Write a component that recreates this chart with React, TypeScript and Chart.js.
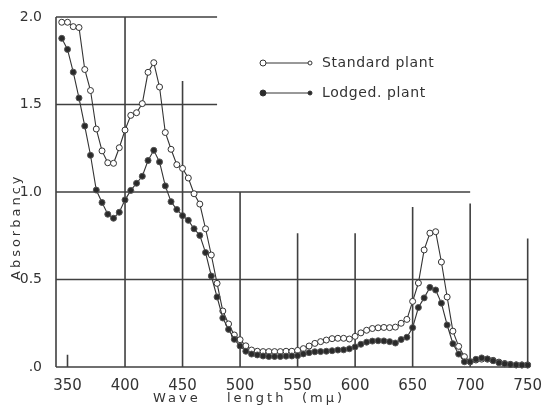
import { useEffect, useRef } from "react";
import { Chart, registerables } from "chart.js";
Chart.register(...registerables);

const wavelengths = [
  345, 350, 355, 360, 365, 370, 375, 380, 385, 390,
  395, 400, 405, 410, 415, 420, 425, 430, 435, 440,
  445, 450, 455, 460, 465, 470, 475, 480, 485, 490,
  495, 500, 505, 510, 515, 520, 525, 530, 535, 540,
  545, 550, 555, 560, 565, 570, 575, 580, 585, 590,
  595, 600, 605, 610, 615, 620, 625, 630, 635, 640,
  645, 650, 655, 660, 665, 670, 675, 680, 685, 690,
  695, 700, 705, 710, 715, 720, 725, 730, 735, 740,
  745, 750,
];

const standardPlant = [
  1.97, 1.97, 1.945, 1.94, 1.7, 1.58, 1.36, 1.235, 1.167, 1.164,
  1.253, 1.354, 1.438, 1.453, 1.505, 1.684, 1.739, 1.6, 1.34, 1.244,
  1.156, 1.135, 1.08, 0.99, 0.931, 0.79, 0.64, 0.478, 0.32, 0.246,
  0.183, 0.156, 0.121, 0.097, 0.09, 0.088, 0.088, 0.088, 0.088, 0.09,
  0.09, 0.095, 0.105, 0.12, 0.135, 0.145, 0.154, 0.162, 0.164, 0.164,
  0.16, 0.175, 0.195, 0.21, 0.22, 0.224, 0.226, 0.225, 0.228, 0.25,
  0.272, 0.375, 0.48, 0.669, 0.765, 0.773, 0.6, 0.4, 0.205, 0.118,
  0.059, 0.03, 0.04, 0.045, 0.045, 0.038, 0.028, 0.02, 0.015, 0.012,
  0.012, 0.012,
];

const lodgedPlant = [
  1.878, 1.815, 1.685, 1.537, 1.377, 1.21, 1.011, 0.94, 0.873, 0.85,
  0.884, 0.955, 1.009, 1.05, 1.09, 1.18, 1.238, 1.172, 1.035, 0.945,
  0.9, 0.865, 0.838, 0.79, 0.752, 0.654, 0.52, 0.4, 0.28, 0.215,
  0.158, 0.12, 0.09, 0.074, 0.069, 0.063, 0.06, 0.06, 0.06, 0.062,
  0.063, 0.065, 0.075, 0.082, 0.087, 0.088, 0.09, 0.093, 0.097, 0.098,
  0.104, 0.115, 0.13, 0.142, 0.148, 0.15, 0.149, 0.145, 0.137, 0.157,
  0.17, 0.225, 0.34, 0.395, 0.455, 0.44, 0.365, 0.24, 0.133, 0.074,
  0.03, 0.03, 0.044, 0.052, 0.046, 0.036, 0.024, 0.018, 0.014, 0.012,
  0.011, 0.011,
];

const xTicks = [350, 400, 450, 500, 550, 600, 650, 700, 750];
const yTicks = [0, 0.5, 1.0, 1.5, 2.0];
const yTickLabels = [".0", "0.5", "1.0", "1.5", "2.0"];

// grid segments in data units
const hGrid = [
  { y: 2.0, from: 340, to: 480 },
  { y: 1.5, from: 340, to: 480 },
  { y: 1.0, from: 340, to: 700 },
  { y: 0.5, from: 340, to: 750 },
];
const vGrid = [
  { x: 350, to: 0.07 },
  { x: 400, to: 2.0 },
  { x: 450, to: 1.635 },
  { x: 500, to: 1.0 },
  { x: 550, to: 0.765 },
  { x: 600, to: 0.765 },
  { x: 650, to: 0.915 },
  { x: 700, to: 0.935 },
  { x: 750, to: 0.735 },
];

const INK = "#333333";
const FONT = "'DejaVu Sans', sans-serif";

const decorPlugin = {
  id: "decor",
  beforeDatasetsDraw(chart: any) {
    const { ctx } = chart;
    const xs = chart.scales.x;
    const ys = chart.scales.y;
    ctx.save();
    ctx.strokeStyle = "#404040";
    ctx.lineWidth = 1.6;
    ctx.beginPath();
    hGrid.forEach((g) => {
      const py = ys.getPixelForValue(g.y);
      ctx.moveTo(xs.getPixelForValue(g.from), py);
      ctx.lineTo(xs.getPixelForValue(g.to), py);
    });
    vGrid.forEach((g) => {
      const px = xs.getPixelForValue(g.x);
      ctx.moveTo(px, ys.getPixelForValue(0));
      ctx.lineTo(px, ys.getPixelForValue(g.to));
    });
    // axes
    ctx.moveTo(xs.getPixelForValue(340), ys.getPixelForValue(0));
    ctx.lineTo(xs.getPixelForValue(750), ys.getPixelForValue(0));
    ctx.moveTo(xs.getPixelForValue(340), ys.getPixelForValue(0));
    ctx.lineTo(xs.getPixelForValue(340), ys.getPixelForValue(2.0));
    ctx.stroke();
    ctx.restore();
  },
  afterDraw(chart: any) {
    const { ctx } = chart;
    ctx.save();
    ctx.fillStyle = INK;
    ctx.textBaseline = "middle";
    // x title
    ctx.font = `13px ${FONT}`;
    (ctx as any).letterSpacing = "3px";
    ctx.textAlign = "left";
    ctx.fillText("Wave", 153, 399);
    ctx.fillText("length", 227, 399);
    ctx.fillText("(mμ)", 302, 399);
    // y title
    ctx.save();
    (ctx as any).letterSpacing = "3px";
    ctx.translate(17, 280);
    ctx.rotate(-Math.PI / 2);
    ctx.fillText("Absorbancy", 0, 0);
    ctx.restore();
    // legend
    (ctx as any).letterSpacing = "0.6px";
    ctx.font = `14px ${FONT}`;
    const rows = [
      { label: "Standard plant", y: 63, fill: "#ffffff" },
      { label: "Lodged. plant", y: 93, fill: "#2a2a2a" },
    ];
    rows.forEach((r) => {
      ctx.strokeStyle = INK;
      ctx.lineWidth = 1;
      ctx.beginPath();
      ctx.moveTo(263, r.y);
      ctx.lineTo(310, r.y);
      ctx.stroke();
      ctx.beginPath();
      ctx.arc(263, r.y, 3, 0, Math.PI * 2);
      ctx.fillStyle = r.fill;
      ctx.fill();
      ctx.stroke();
      ctx.beginPath();
      ctx.arc(310, r.y, 2, 0, Math.PI * 2);
      ctx.fill();
      ctx.stroke();
      ctx.fillStyle = INK;
      ctx.fillText(r.label, 322, r.y);
    });
    ctx.restore();
  },
};

export default function App() {
  const ref = useRef<HTMLCanvasElement | null>(null);
  useEffect(() => {
    if (!ref.current) return;
    const chart = new Chart(ref.current, {
      type: "line",
      data: {
        datasets: [
          {
            label: "Lodged. plant",
            data: wavelengths.map((w, i) => ({ x: w, y: lodgedPlant[i] })),
            borderColor: INK,
            borderWidth: 1.1,
            pointRadius: 3,
            pointBorderWidth: 1,
            pointBackgroundColor: "#2a2a2a",
            pointBorderColor: "#555",
            tension: 0,
          },
          {
            label: "Standard plant",
            data: wavelengths.map((w, i) => ({ x: w, y: standardPlant[i] })),
            borderColor: INK,
            borderWidth: 1.1,
            pointRadius: 3,
            pointBorderWidth: 1,
            pointBackgroundColor: "#ffffff",
            pointBorderColor: INK,
            tension: 0,
          },
        ],
      },
      options: {
        responsive: false,
        animation: false,
        clip: false as any,
        layout: { padding: { left: 0, top: 17, right: 12, bottom: 0 } },
        plugins: { legend: { display: false }, tooltip: { enabled: false } },
        scales: {
          x: {
            type: "linear",
            min: 340,
            max: 750,
            grid: { display: false },
            border: { display: false },
            afterBuildTicks: (s: any) => {
              s.ticks = xTicks.map((v) => ({ value: v }));
            },
            afterFit: (s: any) => {
              s.height = 39;
            },
            ticks: {
              padding: 2,
              color: INK,
              font: { family: FONT, size: 15 },
              maxRotation: 0,
              autoSkip: false,
              callback: (v: any) => String(v),
            },
          },
          y: {
            min: 0,
            max: 2.0,
            grid: { display: false },
            border: { display: false },
            afterBuildTicks: (s: any) => {
              s.ticks = yTicks.map((v) => ({ value: v }));
            },
            afterFit: (s: any) => {
              s.width = 56;
            },
            ticks: {
              padding: 6,
              color: INK,
              font: { family: FONT, size: 14 },
              callback: (v: any) => {
                const i = yTicks.indexOf(Number(v));
                return i >= 0 ? yTickLabels[i] : "";
              },
            },
          },
        },
      },
      plugins: [decorPlugin],
    });
    return () => chart.destroy();
  }, []);
  return (
    <div style={{ position: "fixed", left: 0, top: 0, width: 544, height: 406, background: "#fff" }}>
      <canvas ref={ref} width={544} height={406} />
    </div>
  );
}
